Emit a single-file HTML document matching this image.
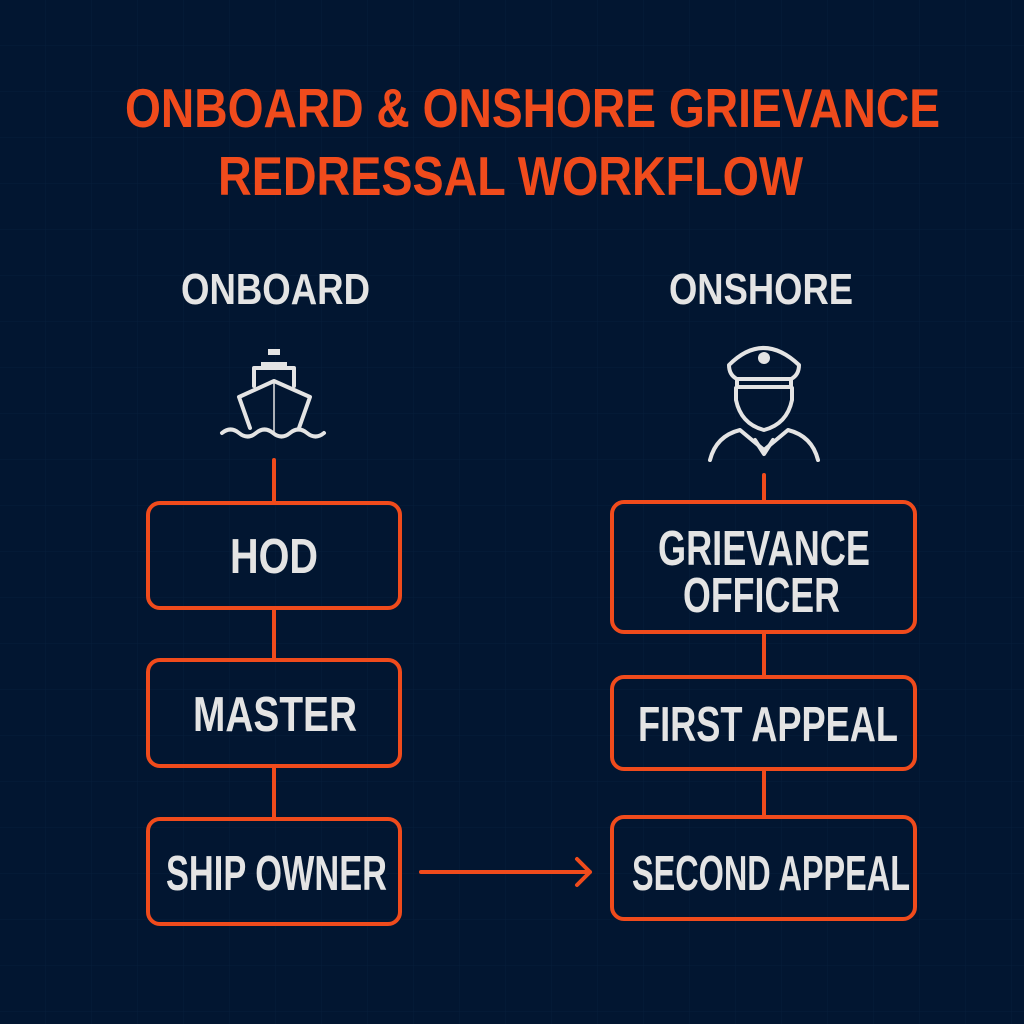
<!DOCTYPE html>
<html><head><meta charset="utf-8"><style>html,body{margin:0;padding:0;background:#021631;}svg{display:block}</style></head>
<body>
<svg width="1024" height="1024" viewBox="0 0 1024 1024" xmlns="http://www.w3.org/2000/svg">
<defs>
<pattern id="g" width="46" height="46" patternUnits="userSpaceOnUse">
<path d="M46 0V46H0" fill="none" stroke="#0b2440" stroke-width="1"/>
</pattern>
</defs>
<rect width="1024" height="1024" fill="#021631"/>
<rect width="1024" height="1024" fill="url(#g)" opacity="0.6"/>
<g font-family="'Liberation Sans Narrow','Liberation Sans',sans-serif" font-weight="bold">
<text x="125" y="127" font-size="55" fill="#f04b1c" textLength="815" lengthAdjust="spacingAndGlyphs">ONBOARD &amp; ONSHORE GRIEVANCE</text>
<text x="218" y="195" font-size="55" fill="#f04b1c" textLength="585" lengthAdjust="spacingAndGlyphs">REDRESSAL WORKFLOW</text>
<g fill="#e4e4e4">
<text x="181" y="304" font-size="44" textLength="189" lengthAdjust="spacingAndGlyphs">ONBOARD</text>
<text x="669" y="304" font-size="44" textLength="184" lengthAdjust="spacingAndGlyphs">ONSHORE</text>
<text x="230" y="573" font-size="49" textLength="88" lengthAdjust="spacingAndGlyphs">HOD</text>
<text x="193" y="731" font-size="49" textLength="164" lengthAdjust="spacingAndGlyphs">MASTER</text>
<text x="166" y="890" font-size="49" textLength="221" lengthAdjust="spacingAndGlyphs">SHIP OWNER</text>
<text x="658" y="565" font-size="49" textLength="212" lengthAdjust="spacingAndGlyphs">GRIEVANCE</text>
<text x="683" y="612" font-size="49" textLength="157" lengthAdjust="spacingAndGlyphs">OFFICER</text>
<text x="638" y="741" font-size="49" textLength="260" lengthAdjust="spacingAndGlyphs">FIRST APPEAL</text>
<text x="632" y="890" font-size="49" textLength="278" lengthAdjust="spacingAndGlyphs">SECOND APPEAL</text>
</g>
</g>
<g fill="none" stroke="#f04b1c" stroke-width="4" stroke-linecap="round" stroke-linejoin="round">
<rect x="148" y="503" width="252" height="105" rx="12"/>
<rect x="148" y="660" width="252" height="106" rx="12"/>
<rect x="148" y="819" width="252" height="105" rx="12"/>
<rect x="612" y="502" width="303" height="130" rx="12"/>
<rect x="612" y="677" width="303" height="92" rx="12"/>
<rect x="612" y="817" width="303" height="102" rx="12"/>
<path d="M274 460V503M274 608V660M274 766V819"/>
<path d="M764 475V502M764 632V677M764 769V817"/>
<path d="M421 872H590M577 859L590 872L577 885"/>
</g>
<g fill="none" stroke="#e4e4e4" stroke-width="4" stroke-linecap="round" stroke-linejoin="round">
<rect x="268" y="349" width="12" height="6" fill="#e4e4e4" stroke="none"/>
<rect x="261" y="362" width="26" height="6" fill="#e4e4e4" stroke="none"/>
<path d="M254 386V368H294V386"/>
<path d="M239 397L274 381L310 397L299 428M239 397L250 428"/>
<path d="M274 382V434" stroke-width="1.5"/>
<path d="M222 433q8.5 -7 17 0t17 0t17 0t17 0t17 0t17 0"/>
<path d="M729 365q34 -34 70 0q0 10 -8 14h-54q-8 -4 -8 -14z"/>
<path d="M737 379v8h54v-8"/>
<path d="M736 388v12q5 24 28 30q23 -6 28 -30v-12"/>
<path d="M710 460q6 -24 30 -30l24 20l24 -20q24 6 30 30"/>
<path d="M755 440l9 14l9 -14"/>
</g>
<circle cx="764" cy="358" r="6" fill="#e4e4e4"/>
</svg>
</body></html>
